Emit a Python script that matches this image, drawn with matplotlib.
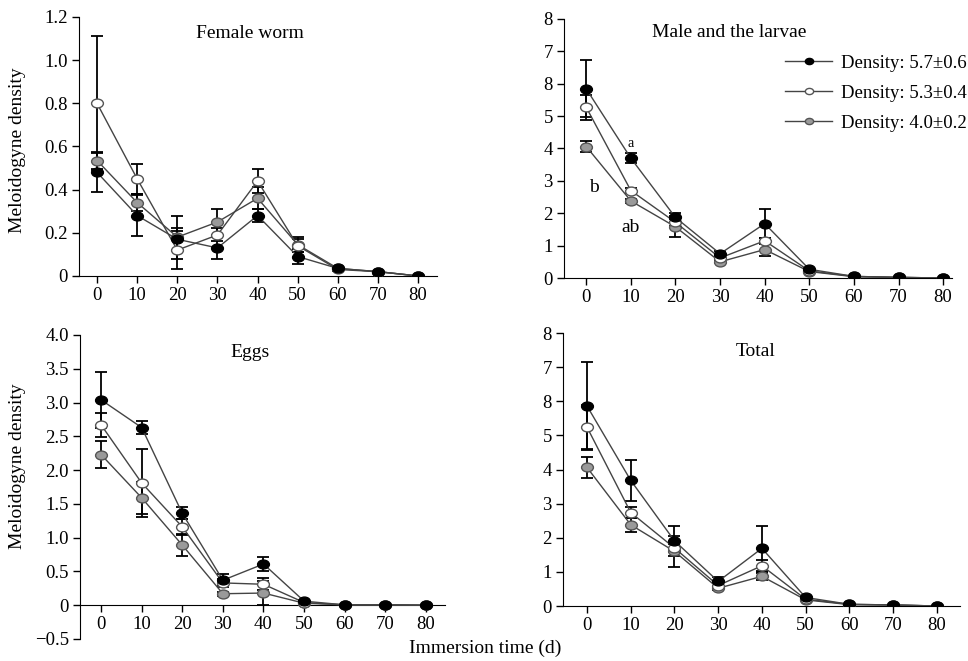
import matplotlib
matplotlib.use('Agg')
import matplotlib.pyplot as plt
from matplotlib.path import Path
from matplotlib.transforms import Affine2D

plt.rcParams['font.family'] = ['Liberation Serif', 'DejaVu Serif']
plt.rcParams['font.size'] = 13.5

days = [0, 10, 20, 30, 40, 50, 60, 70, 80]
labels = ['Density: 5.7\u00b10.6', 'Density: 5.3\u00b10.4', 'Density: 4.0\u00b10.2']

# Female worm
female_hi = [0.48, 0.28, 0.17, 0.13, 0.28, 0.09, 0.035, 0.02, 0.0]
female_hi_err = [0.09, 0.095, 0.05, 0.05, 0.03, 0.035, 0.005, 0.005, 0.0]
female_mid = [0.80, 0.45, 0.12, 0.19, 0.44, 0.14, 0.03, 0.02, 0.0]
female_mid_err = [0.31, 0.07, 0.09, 0.03, 0.055, 0.03, 0.005, 0.005, 0.0]
female_lo = [0.535, 0.34, 0.18, 0.25, 0.36, 0.145, 0.035, 0.02, 0.0]
female_lo_err = [0.04, 0.04, 0.10, 0.06, 0.05, 0.035, 0.005, 0.005, 0.0]

# Male and the larvae
male_hi = [5.84, 3.70, 1.87, 0.75, 1.68, 0.27, 0.05, 0.02, 0.0]
male_hi_err = [0.88, 0.15, 0.13, 0.08, 0.45, 0.03, 0.01, 0.005, 0.0]
male_mid = [5.27, 2.70, 1.72, 0.62, 1.15, 0.22, 0.05, 0.02, 0.0]
male_mid_err = [0.38, 0.08, 0.10, 0.05, 0.10, 0.03, 0.01, 0.005, 0.0]
male_lo = [4.06, 2.38, 1.58, 0.50, 0.88, 0.20, 0.04, 0.02, 0.0]
male_lo_err = [0.16, 0.05, 0.32, 0.05, 0.19, 0.03, 0.01, 0.005, 0.0]

# Eggs
eggs_hi = [3.04, 2.63, 1.36, 0.37, 0.61, 0.06, 0.005, 0.005, 0.0]
eggs_hi_err = [0.41, 0.09, 0.09, 0.09, 0.11, 0.02, 0.0, 0.0, 0.0]
eggs_mid = [2.67, 1.81, 1.16, 0.33, 0.31, 0.04, 0.005, 0.005, 0.0]
eggs_mid_err = [0.18, 0.50, 0.12, 0.06, 0.09, 0.02, 0.0, 0.0, 0.0]
eggs_lo = [2.23, 1.59, 0.89, 0.17, 0.18, 0.03, 0.005, 0.005, 0.0]
eggs_lo_err = [0.20, 0.24, 0.16, 0.03, 0.18, 0.02, 0.0, 0.0, 0.0]

# Total
total_hi = [5.86, 3.68, 1.91, 0.72, 1.69, 0.25, 0.05, 0.03, 0.0]
total_hi_err = [1.29, 0.60, 0.43, 0.14, 0.65, 0.03, 0.01, 0.005, 0.0]
total_mid = [5.24, 2.74, 1.70, 0.60, 1.18, 0.20, 0.05, 0.03, 0.0]
total_mid_err = [0.65, 0.17, 0.12, 0.08, 0.17, 0.03, 0.01, 0.005, 0.0]
total_lo = [4.06, 2.38, 1.60, 0.52, 0.87, 0.18, 0.04, 0.03, 0.0]
total_lo_err = [0.32, 0.21, 0.45, 0.05, 0.10, 0.03, 0.01, 0.005, 0.0]

# slightly flattened circle, like the original markers
ellipse = Path.unit_circle().transformed(Affine2D().scale(1.0, 0.75))

styles = [
    dict(mfc='black', mec='black'),
    dict(mfc='white', mec='#555555'),
    dict(mfc='#9a9a9a', mec='#555555'),
]


def draw_panel(ax, series, title, title_xy):
    # draw gray first so the black series ends up on top
    for i in [2, 1, 0]:
        vals, err = series[i]
        ax.errorbar(days, vals, yerr=err, fmt='none', ecolor='black',
                    elinewidth=1.3, capsize=4, capthick=1.3, zorder=2)
        ax.plot(days, vals, color='#444444', lw=1.0, marker=ellipse,
                ms=8.5, mew=1.0, zorder=3 + (2 - i), label=labels[i],
                **styles[i])
    ax.spines['top'].set_visible(False)
    ax.spines['right'].set_visible(False)
    ax.tick_params(direction='out', length=5, width=1, pad=3)
    ax.set_xticks(days)
    ax.text(title_xy[0], title_xy[1], title, transform=ax.transAxes,
            ha='center', va='center', fontsize=14)


fig = plt.figure(figsize=(9.68, 6.61), dpi=100)

ax1 = fig.add_axes([0.0816, 0.5825, 0.3698, 0.3918])
draw_panel(ax1, [(female_hi, female_hi_err), (female_mid, female_mid_err),
                 (female_lo, female_lo_err)], 'Female worm', (0.478, 0.938))
ax1.set_xlim(-4.5, 84.7)
ax1.set_ylim(0, 1.2)
ax1.set_yticks([0, 0.2, 0.4, 0.6, 0.8, 1.0, 1.2])
ax1.set_yticklabels(['0', '0.2', '0.4', '0.6', '0.8', '1.0', '1.2'])

ax2 = fig.add_axes([0.5826, 0.5794, 0.4009, 0.3919])
draw_panel(ax2, [(male_hi, male_hi_err), (male_mid, male_mid_err),
                 (male_lo, male_lo_err)], 'Male and the larvae', (0.425, 0.946))
ax2.set_xlim(-5, 82)
ax2.set_ylim(0, 8)
ax2.set_yticks(range(9))
ax2.set_yticklabels(['0', '1', '2', '3', '4', '5', '8', '7', '8'])
ax2.text(10, 4.15, 'a', ha='center', va='center', fontsize=10)
ax2.text(1.8, 2.8, 'b', ha='center', va='center', fontsize=14)
ax2.text(10, 1.55, 'ab', ha='center', va='center', fontsize=14)
handles, labs = ax2.get_legend_handles_labels()
order = [2, 1, 0]
ax2.legend([handles[k] for k in order], [labs[k] for k in order],
           loc='upper left', bbox_to_anchor=(776 / 968, 1 - 45 / 661),
           bbox_transform=fig.transFigure, frameon=False, borderpad=0,
           handlelength=2.5, handletextpad=0.45, labelspacing=0.7,
           markerscale=0.7, fontsize=13.5)

ax3 = fig.add_axes([0.0826, 0.0333, 0.3771, 0.4599])
draw_panel(ax3, [(eggs_hi, eggs_hi_err), (eggs_mid, eggs_mid_err),
                 (eggs_lo, eggs_lo_err)], 'Eggs', (0.466, 0.944))
ax3.set_xlim(-5.2, 84.7)
ax3.set_ylim(-0.5, 4.0)
ax3.spines['bottom'].set_position(('data', 0))
ax3.set_yticks([-0.5, 0, 0.5, 1.0, 1.5, 2.0, 2.5, 3.0, 3.5, 4.0])
ax3.set_yticklabels(['\u22120.5', '0', '0.5', '1.0', '1.5', '2.0', '2.5',
                     '3.0', '3.5', '4.0'])

ax4 = fig.add_axes([0.5816, 0.0832, 0.4101, 0.4130])
draw_panel(ax4, [(total_hi, total_hi_err), (total_mid, total_mid_err),
                 (total_lo, total_lo_err)], 'Total', (0.486, 0.934))
ax4.set_xlim(-5.5, 85.3)
ax4.set_ylim(0, 8)
ax4.set_yticks(range(9))
ax4.set_yticklabels(['0', '1', '2', '3', '4', '5', '8', '7', '8'])

fig.text(18 / 968, 1 - 150 / 661, 'Meloidogyne density', rotation=90,
         ha='center', va='center', fontsize=14)
fig.text(18 / 968, 1 - 466 / 661, 'Meloidogyne density', rotation=90,
         ha='center', va='center', fontsize=14)
fig.text(485 / 968, 1 - 648 / 661, 'Immersion time (d)', ha='center',
         va='center', fontsize=14)

fig.savefig('out.png', dpi=100)
